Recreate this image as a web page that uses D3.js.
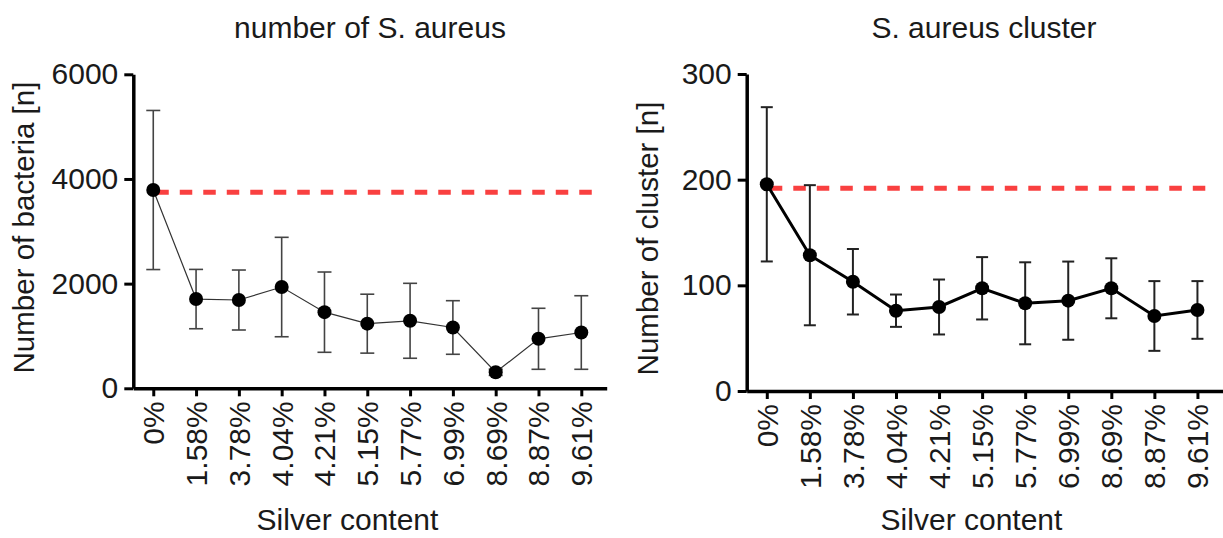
<!DOCTYPE html>
<html>
<head>
<meta charset="utf-8">
<script src="https://cdn.jsdelivr.net/npm/d3@7"></script>
<style>
  body { margin: 0; background: #fff; }
  svg { display: block; font-family: "Liberation Sans", Arial, sans-serif; }
</style>
</head>
<body>
<div id="chart"></div>
<script>
// Silver content categories (same for both panels)
const categories = ["0%", "1.58%", "3.78%", "4.04%", "4.21%", "5.15%", "5.77%", "6.99%", "8.69%", "8.87%", "9.61%"];

// Left panel: number of S. aureus (mean +/- sd)
const bacteriaMean = [3789, 1705, 1687, 1935, 1455, 1235, 1290, 1162, 306, 946, 1066];
const bacteriaSd = [1520, 567, 573, 950, 767, 563, 716, 512, 60, 583, 703];
const bacteriaRef = 3745;
const bacteriaTicks = [0, 2000, 4000, 6000];

// Right panel: S. aureus cluster (mean +/- sd)
const clusterMean = [195.6, 128.5, 103.4, 76, 79.5, 97.2, 83, 85.5, 97.2, 71, 76.7];
const clusterSd = [73, 66.3, 31, 15.3, 26, 29.5, 38.8, 37, 28.4, 33, 27.3];
const clusterRef = 191.8;
const clusterTicks = [0, 100, 200, 300];

const svg = d3.select("#chart")
    .append("svg")
    .attr("width", 1223)
    .attr("height", 538);

// Function to draw one panel
function drawPanel(p) {
    const x = d3.scalePoint()
        .domain(categories)
        .range([p.left, p.right])
        .padding(0.53)
        .align(0.44);

    const y = d3.scaleLinear()
        .domain([0, p.ticks[p.ticks.length - 1]])
        .range([p.bottom, p.top]);

    const g = svg.append("g");

    // y axis
    const yAxis = g.append("g")
        .attr("transform", `translate(${p.left},0)`)
        .call(d3.axisLeft(y).tickValues(p.ticks).tickFormat(d3.format("d"))
            .tickSize(9).tickSizeOuter(0).tickPadding(6));
    yAxis.select(".domain").attr("stroke", "#000").attr("stroke-width", 3.5);
    yAxis.selectAll(".tick line").attr("stroke", "#000").attr("stroke-width", 3);
    yAxis.selectAll(".tick text")
        .attr("fill", "#1a1a1a")
        .style("font-size", "30px")
        .style("font-family", "'Liberation Sans', Arial, sans-serif");

    // x axis
    const xAxis = g.append("g")
        .attr("transform", `translate(0,${p.bottom})`)
        .call(d3.axisBottom(x).tickSize(8).tickSizeOuter(0));
    xAxis.select(".domain").attr("stroke", "#000").attr("stroke-width", 3.5);
    xAxis.selectAll(".tick line").attr("stroke", "#000").attr("stroke-width", 3);
    xAxis.selectAll(".tick text")
        .attr("fill", "#1a1a1a")
        .attr("x", -13)
        .attr("y", 0)
        .attr("dy", "0.35em")
        .attr("transform", "rotate(-90)")
        .style("text-anchor", "end")
        .style("font-size", "30px")
        .style("font-family", "'Liberation Sans', Arial, sans-serif");

    // reference (control) level, red dashed
    g.append("line")
        .attr("x1", x(categories[0]) + 3)
        .attr("x2", x(categories[categories.length - 1]) + 11)
        .attr("y1", y(p.ref))
        .attr("y2", y(p.ref))
        .attr("stroke", "#f94040")
        .attr("stroke-width", 5)
        .attr("stroke-dasharray", "12.5,11");

    const rows = categories.map((c, i) => ({ c: c, m: p.mean[i], sd: p.sd[i] }));

    // error bars
    const err = g.append("g")
        .attr("stroke", p.errColor)
        .attr("stroke-width", p.errWidth);
    err.selectAll("line.bar")
        .data(rows)
        .enter()
        .append("line")
        .attr("class", "bar")
        .attr("x1", d => x(d.c))
        .attr("x2", d => x(d.c))
        .attr("y1", d => y(d.m + d.sd))
        .attr("y2", d => y(d.m - d.sd));
    ["top", "bot"].forEach(k => {
        err.selectAll("line." + k)
            .data(rows)
            .enter()
            .append("line")
            .attr("class", k)
            .attr("x1", d => x(d.c) - p.cap)
            .attr("x2", d => x(d.c) + p.cap)
            .attr("y1", d => y(k === "top" ? d.m + d.sd : d.m - d.sd))
            .attr("y2", d => y(k === "top" ? d.m + d.sd : d.m - d.sd));
    });

    // connecting line
    const line = d3.line()
        .x(d => x(d.c))
        .y(d => y(d.m));
    g.append("path")
        .datum(rows)
        .attr("d", line)
        .attr("fill", "none")
        .attr("stroke", p.lineColor)
        .attr("stroke-width", p.lineWidth);

    // markers
    g.selectAll("circle")
        .data(rows)
        .enter()
        .append("circle")
        .attr("cx", d => x(d.c))
        .attr("cy", d => y(d.m))
        .attr("r", 7)
        .attr("fill", "#000");

    // title
    g.append("text")
        .attr("x", p.titleX)
        .attr("y", 38)
        .attr("text-anchor", "middle")
        .attr("fill", "#1a1a1a")
        .style("font-size", "30px")
        .text(p.title);

    // y label
    g.append("text")
        .attr("transform", `translate(${p.yLabelX},${p.yLabelY}) rotate(-90)`)
        .attr("text-anchor", "middle")
        .attr("fill", "#1a1a1a")
        .style("font-size", "29.5px")
        .text(p.yLabel);

    // x label
    g.append("text")
        .attr("x", p.xLabelX)
        .attr("y", 530)
        .attr("text-anchor", "middle")
        .attr("fill", "#1a1a1a")
        .style("font-size", "30px")
        .text("Silver content");
}

drawPanel({
    left: 133.3, right: 606.7, top: 74.3, bottom: 388.3,
    ticks: bacteriaTicks, mean: bacteriaMean, sd: bacteriaSd, ref: bacteriaRef,
    lineColor: "#333", lineWidth: 1.2, errColor: "#444", errWidth: 1.6, cap: 7,
    title: "number of S. aureus", titleX: 370,
    yLabel: "Number of bacteria [n]", yLabelX: 34, yLabelY: 227.5,
    xLabelX: 347.5
});

drawPanel({
    left: 746.7, right: 1223, top: 74, bottom: 391,
    ticks: clusterTicks, mean: clusterMean, sd: clusterSd, ref: clusterRef,
    lineColor: "#000", lineWidth: 3, errColor: "#222", errWidth: 2, cap: 6,
    title: "S. aureus cluster", titleX: 984,
    yLabel: "Number of cluster [n]", yLabelX: 658, yLabelY: 238.5,
    xLabelX: 971.5
});
</script>
</body>
</html>
